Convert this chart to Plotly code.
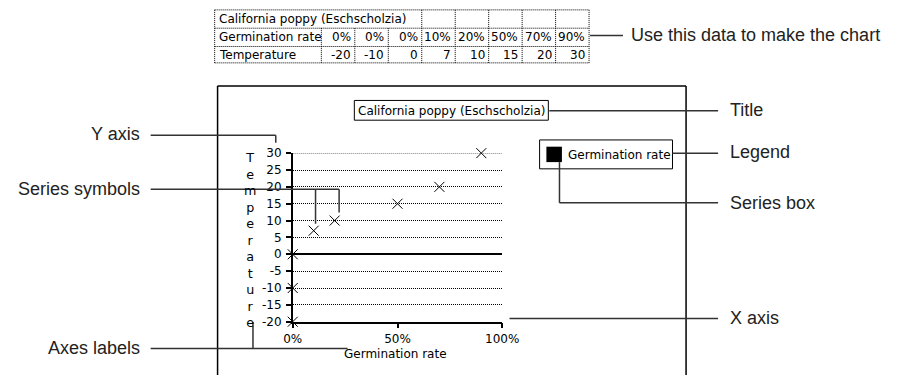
import plotly.graph_objects as go

W, H = 899, 382

# ---------------- data ----------------
species = "California poppy (Eschscholzia)"
series_name = "Germination rate"
germination_rate = [0.00, 0.00, 0.00, 0.10, 0.20, 0.50, 0.70, 0.90]
temperature = [-20, -10, 0, 7, 10, 15, 20, 30]
row_labels = ["Germination rate", "Temperature"]
x_title = "Germination rate"
y_title = "Temperature"
x_tick_vals = [0.0, 0.5, 1.0]
x_tick_labels = ["0%", "50%", "100%"]
y_tick_vals = [-20, -15, -10, -5, 0, 5, 10, 15, 20, 25, 30]
y_tick_labels = ["-20", "-15", "-10", "-5", "0", "5", "10", "15", "20", "25", "30"]
callouts = ["Use this data to make the chart", "Title", "Legend", "Series box",
            "X axis", "Y axis", "Series symbols", "Axes labels"]

# ---------------- helpers (pixel -> paper) ----------------
def X(px):
    return px / W

def Y(py):
    return 1 - py / H

CHART_FONT = "DejaVu Sans"
LABEL_FONT = "Liberation Sans, Arial, sans-serif"

shapes = []
annotations = []

def line(x0, y0, x1, y1, width=1.5, color="#222", dash=None):
    d = dict(type="line", xref="paper", yref="paper",
             x0=X(x0), y0=Y(y0), x1=X(x1), y1=Y(y1),
             line=dict(color=color, width=width))
    if dash:
        d["line"]["dash"] = dash
    shapes.append(d)

def rect(x0, y0, x1, y1, width=1, color="black", fill=None):
    d = dict(type="rect", xref="paper", yref="paper",
             x0=X(x0), y0=Y(y0), x1=X(x1), y1=Y(y1),
             line=dict(color=color, width=width))
    if fill:
        d["fillcolor"] = fill
    shapes.append(d)

def text(t, x, y, size=12, family=CHART_FONT, xanchor="left", yanchor="middle", color="black"):
    annotations.append(dict(text=t, xref="paper", yref="paper", x=X(x), y=Y(y),
                            xanchor=xanchor, yanchor=yanchor, showarrow=False,
                            font=dict(family=family, size=size, color=color)))

# ---------------- data table (top) ----------------
tbl_left, lbl_right, tbl_right = 211, 321, 597
ncol = len(germination_rate)
colw = (tbl_right - lbl_right) / ncol
col_edges = [lbl_right + i * colw for i in range(ncol + 1)]
row_edges = [3, 22, 41, 58]
DOT = "1px,1px"
for ry in row_edges:
    line(tbl_left, ry, tbl_right, ry, width=1, color="black", dash=DOT)
line(tbl_left, row_edges[0], tbl_left, row_edges[-1], width=1, color="black", dash=DOT)
for i, cx in enumerate(col_edges):
    # the title text of row 1 overflows the first cells, hiding their gridlines
    top = row_edges[0] if cx > 400 else row_edges[1]
    line(cx, top, cx, row_edges[-1], width=1, color="black", dash=DOT)

row_mid = [(row_edges[i] + row_edges[i + 1]) / 2 for i in range(3)]
text(species, tbl_left + 2, row_mid[0], size=12)
text(row_labels[0], tbl_left + 2, row_mid[1], size=12)
text(row_labels[1], tbl_left + 2, row_mid[2], size=12)
for i in range(ncol):
    rx = col_edges[i + 1] - 2
    text(f"{round(germination_rate[i] * 100)}%", rx, row_mid[1], size=12, xanchor="right")
    text(f"{temperature[i]}", rx, row_mid[2], size=12, xanchor="right")

# ---------------- chart frame ----------------
line(214, 82, 214, H, width=1.5, color="black")
line(214, 82, 697, 82, width=1.5, color="black")
line(697, 82, 697, H, width=1.5, color="black")

# title box
rect(355, 97, 555, 117.5, width=1)
text(species, 455, 107.5, size=12, xanchor="center")

# legend box
rect(546, 138, 683, 168, width=1)
rect(553, 145, 569, 161, width=0, fill="black")
text(series_name, 573, 154, size=12)

# y axis title, stacked letters
annotations.append(dict(text="<br>".join(list(y_title)), xref="paper", yref="paper",
                        x=X(247), y=Y(242), xanchor="center", yanchor="middle",
                        showarrow=False, align="center",
                        font=dict(family=CHART_FONT, size=12.7, color="black")))
# x axis title
text(x_title, 397, 360, size=12, xanchor="center")

# ---------------- callouts ----------------
CL = "#333"
line(598, 29.5, 632, 29.5, color=CL)
text(callouts[0], 638, 29.5, size=18, family=LABEL_FONT, color="#222")

line(556, 107.7, 730, 107.7, color=CL)
text(callouts[1], 740, 106.5, size=18, family=LABEL_FONT, color="#222")

line(683, 151.7, 730, 151.7, color=CL)
text(callouts[2], 740, 151, size=18, family=LABEL_FONT, color="#222")

line(566.5, 161, 566.5, 203.3, color=CL)
line(566.5, 203.3, 730, 203.3, color=CL)
text(callouts[3], 740, 203, size=18, family=LABEL_FONT, color="#222")

line(515, 323.3, 730, 323.3, color=CL)
text(callouts[4], 740, 323, size=18, family=LABEL_FONT, color="#222")

line(145, 133, 274, 133, color=CL)
line(274, 133, 274, 141, color=CL)
text(callouts[5], 136, 132, size=18, family=LABEL_FONT, xanchor="right", color="#222")

line(145, 189.3, 339.3, 189.3, color=CL)
line(315, 189.3, 315, 225, color=CL)
line(339.3, 189.3, 339.3, 213.3, color=CL)
text(callouts[6], 136, 189, size=18, family=LABEL_FONT, xanchor="right", color="#222")

line(145, 354.5, 348, 354.5, color=CL)
line(250.5, 327, 250.5, 354.5, color=CL)
text(callouts[7], 136, 354, size=18, family=LABEL_FONT, xanchor="right", color="#222")

# top gridline (plotly drops the grid line that sits on the range end)
shapes.append(dict(type="line", xref="x", yref="y",
                   x0=x_tick_vals[0], x1=x_tick_vals[-1],
                   y0=y_tick_vals[-1], y1=y_tick_vals[-1],
                   line=dict(color="black", width=1, dash=DOT), layer="below"))

# ---------------- the scatter chart ----------------
fig = go.Figure()
fig.add_trace(go.Scatter(
    x=germination_rate, y=temperature, mode="markers", name=series_name,
    marker=dict(symbol="x-thin-open", size=10, line=dict(color="black", width=1), color="black"),
    cliponaxis=False, showlegend=False, hoverinfo="x+y",
))

fig.update_layout(
    width=W, height=H,
    margin=dict(l=0, r=0, t=0, b=0, pad=0),
    paper_bgcolor="white", plot_bgcolor="white",
    showlegend=False,
    xaxis=dict(domain=[X(291.5), X(507.5)], range=[0, 1],
               tickvals=x_tick_vals, ticktext=x_tick_labels,
               ticks="outside", ticklen=5, tickwidth=1.5, tickcolor="black",
               showline=True, linecolor="black", linewidth=1.5,
               showgrid=False, zeroline=False,
               tickfont=dict(family=CHART_FONT, size=12, color="black")),
    yaxis=dict(domain=[Y(326.7), Y(151.7)], range=[-20, 30],
               tickvals=y_tick_vals, ticktext=y_tick_labels,
               ticks="outside", ticklen=5, tickwidth=1.5, tickcolor="black",
               showline=True, linecolor="black", linewidth=1.5,
               showgrid=True, gridcolor="black", gridwidth=1, griddash=DOT,
               zeroline=True, zerolinecolor="black", zerolinewidth=1.5,
               ticklabelstandoff=2,
               tickfont=dict(family=CHART_FONT, size=12, color="black")),
    shapes=shapes,
    annotations=annotations,
)

fig.write_html(
    "out.html",
    config={"displayModeBar": False},
    post_script="document.body.style.margin='0';document.body.style.padding='0';"
                "document.documentElement.style.overflow='hidden';",
)
